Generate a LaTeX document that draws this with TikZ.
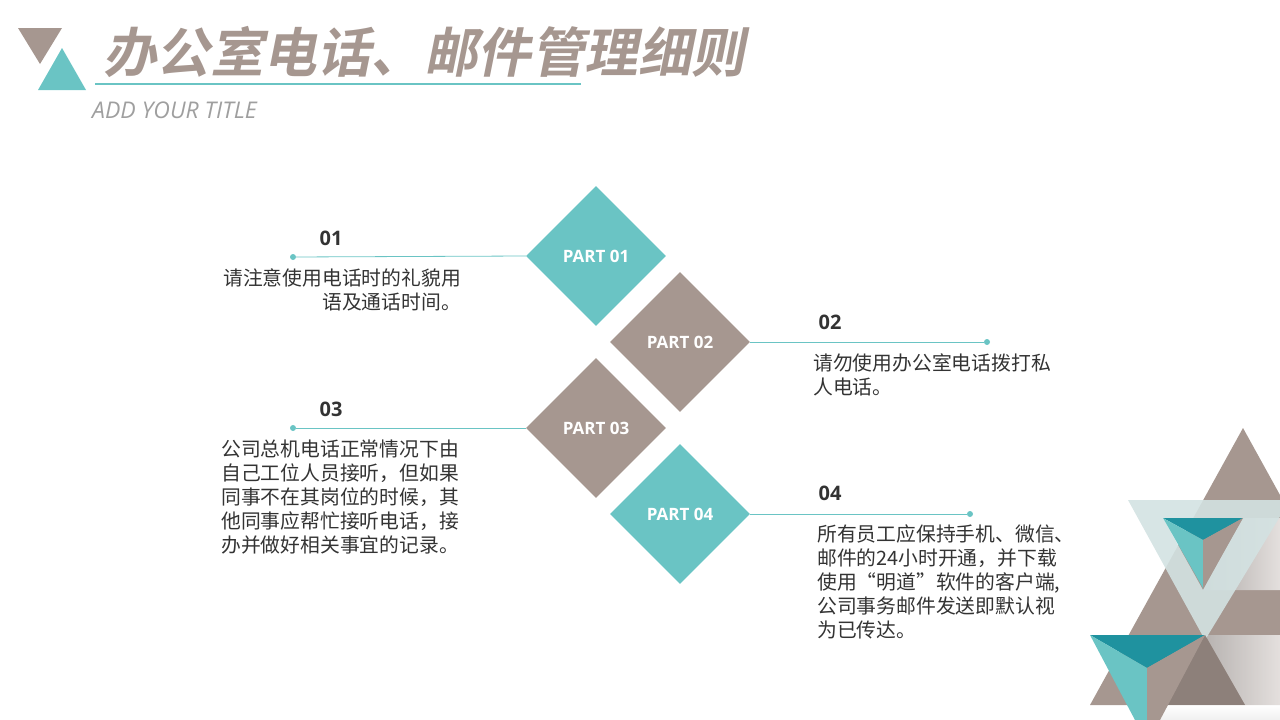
\documentclass[tikz,border=0pt]{standalone}
\usepackage{fontspec}
\setmainfont{Noto Sans CJK SC}
\newfontfamily\cjkb{Noto Sans CJK SC Bold}[FakeSlant=0.2]
\newfontfamily\lat{Open Sans}
\newfontfamily\latb{Open Sans Bold}
\usetikzlibrary{shapes.geometric}
\definecolor{teal1}{HTML}{6AC4C4}
\definecolor{brn}{HTML}{A69790}
\definecolor{dteal}{HTML}{1F929F}
\definecolor{band}{HTML}{D3E2E2}
\definecolor{txt}{HTML}{333333}
\tikzset{
 dia/.style={diamond,minimum width=140pt,minimum height=140pt,inner sep=0,text=white,font=\latb\fontsize{17}{17}\selectfont},
 dot/.style={circle,fill=teal1,inner sep=0,minimum size=6pt},
 ln/.style={teal1,line width=0.8pt},
 num/.style={font=\latb\fontsize{20}{20}\selectfont,text=txt},
 body/.style={font=\fontsize{19.8}{24}\selectfont,text=txt,inner sep=0}
}
\begin{document}
\begin{tikzpicture}[x=1pt,y=-1pt]
\useasboundingbox (0,0) rectangle (1280,720);
% title
\fill[brn] (18,28) -- (62,28) -- (40,64) -- cycle;
\fill[teal1] (62,48) -- (86,90) -- (38,90) -- cycle;
\node[anchor=west,text=brn,font=\cjkb\fontsize{53.5}{53.5}\selectfont,inner sep=0] (title) at (103,52) {办公室电话、邮件管理细则};
\draw[teal1,line width=1.5pt] (95,84) -- (581,84);
\node[anchor=west,text=gray!75,font=\lat\itshape\fontsize{23}{23}\selectfont,inner sep=0] (sub) at (92,110) {ADD YOUR TITLE};
% decoration
\fill[brn] (1243,428) -- (1396,705) -- (1090,705) -- cycle;
\shade[left color=gray!60,right color=white,opacity=0.7] (1243,518) -- (1280,518) -- (1280,590) -- (1203,590) -- cycle;
\shade[left color=gray!50,right color=white,opacity=0.7] (1205,635) -- (1280,635) -- (1280,705) -- (1245,705) -- cycle;
\fill[band,opacity=0.9,even odd rule] (1128,500) -- (1290,500) -- (1205,640) -- cycle (1163,518) -- (1243,518) -- (1203,590) -- cycle;
\fill[dteal] (1163,518) -- (1243,518) -- (1203,540) -- cycle;
\fill[teal1] (1163,518) -- (1203,540) -- (1203,588) -- cycle;
\fill[brn] (1243,518) -- (1203,540) -- (1203,588) -- cycle;
\fill[brn!85!black] (1205,635) -- (1245,705) -- (1165,705) -- cycle;
\shade[top color=white,bottom color=gray!20,opacity=0.6] (1150,705) rectangle (1280,720);
\fill[dteal] (1090,635) -- (1205,635) -- (1147,668) -- cycle;
\fill[teal1] (1090,635) -- (1147,668) -- (1147,720) -- (1135,720) -- cycle;
\fill[brn] (1205,635) -- (1147,668) -- (1147,720) -- (1160,720) -- cycle;
% diamonds
\node[dia,fill=teal1] (p1) at (596,256) {PART 01};
\node[dia,fill=brn] (p2) at (680,342) {PART 02};
\node[dia,fill=brn] (p3) at (596,428) {PART 03};
\node[dia,fill=teal1] (p4) at (680,514) {PART 04};
\node[dot] (d1) at (293,257) {};
\node[dot] (d2) at (987,342) {};
\node[dot] (d3) at (293,428) {};
\node[dot] (d4) at (970,514) {};
\draw[ln] (d1) -- (p1.west);
\draw[ln] (p2.east) -- (d2);
\draw[ln] (d3) -- (p3.west);
\draw[ln] (p4.east) -- (d4);
\node[num] (n1) at (331,238) {01};
\node[num] (n2) at (830,322) {02};
\node[num] (n3) at (331,409) {03};
\node[num] (n4) at (830,493) {04};
\node[body,anchor=north east,align=right] (t1) at (461,268) {请注意使用电话时的礼貌用\\语及通话时间。};
\node[body,anchor=north west,align=left] (t2) at (813,353) {请勿使用办公室电话拨打私\\人电话。};
\node[body,anchor=north west,align=left] (t3) at (221,440) {公司总机电话正常情况下由\\自己工位人员接听，但如果\\同事不在其岗位的时候，其\\他同事应帮忙接听电话，接\\办并做好相关事宜的记录。};
\node[body,anchor=north west,align=left] (t4) at (817,525) {所有员工应保持手机、微信、\\邮件的24小时开通，并下载\\使用“明道”软件的客户端,\\公司事务邮件发送即默认视\\为已传达。};
\end{tikzpicture}
\end{document}
